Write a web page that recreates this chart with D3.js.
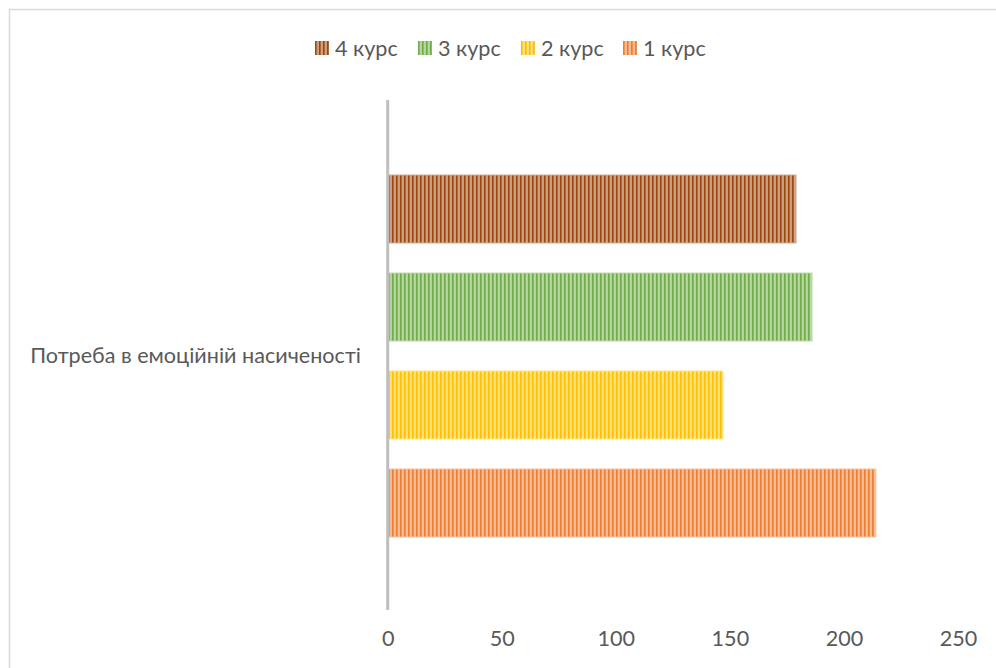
<!DOCTYPE html>
<html>
<head>
<meta charset="utf-8">
<script src="https://cdn.jsdelivr.net/npm/d3@7/dist/d3.min.js"></script>
<style>
  html, body { margin: 0; padding: 0; background: #ffffff; }
  svg { display: block; }
  text { font-family: Lato, "Liberation Sans", sans-serif; fill: #595959; }
</style>
</head>
<body>
<svg id="chart" width="996" height="668"></svg>
<script>
// Category and series data
const categories = ["Потреба в емоційній насиченості"];
const seriesNames = ["4 курс", "3 курс", "2 курс", "1 курс"];
const seriesValues = [179, 186, 147, 214];
const seriesColors = ["#9E480E", "#70AD47", "#FFC000", "#ED7D31"];
const tickValues = [0, 50, 100, 150, 200, 250];

const svg = d3.select("#chart");
const W = 996, H = 668;
const FONT = 21.6;

// Outer chart frame
svg.append("rect")
  .attr("x", 9.5).attr("y", 9.5)
  .attr("width", W + 20).attr("height", H + 20)
  .attr("fill", "#ffffff")
  .attr("stroke", "#d9d9d9").attr("stroke-width", 1.5);

// Plot area
const plot = { left: 387.7, right: 958, top: 100, bottom: 610 };

const x = d3.scaleLinear().domain([0, 250]).range([plot.left, plot.right]);

const yCat = d3.scaleBand().domain(categories).range([plot.top, plot.bottom]);

const ySeries = d3.scaleBand()
  .domain(seriesNames)
  .range([160, 552])
  .paddingInner(0.306)
  .paddingOuter(0.153);

// Narrow vertical stripe pattern for each series
const defs = svg.append("defs");
seriesColors.forEach((c, i) => {
  const p = defs.append("pattern")
    .attr("id", "stripe" + i)
    .attr("patternUnits", "userSpaceOnUse")
    .attr("width", 4).attr("height", 4);
  const light = d3.interpolateRgb(c, "#ffffff")(0.7);
  const mid = d3.interpolateRgb(c, "#ffffff")(0.3);
  p.append("rect").attr("x", 0).attr("y", 0).attr("width", 4).attr("height", 4).attr("fill", light);
  p.append("rect").attr("x", 0).attr("y", 0).attr("width", 1.8).attr("height", 4).attr("fill", c);
  p.append("rect").attr("x", 1.8).attr("y", 0).attr("width", 0.7).attr("height", 4).attr("fill", mid);
  p.append("rect").attr("x", 3.4).attr("y", 0).attr("width", 0.6).attr("height", 4).attr("fill", mid);
});

// Bars
const barData = seriesNames.map((s, i) => ({ name: s, value: seriesValues[i], idx: i }));
svg.append("g").selectAll("rect")
  .data(barData)
  .join("rect")
  .attr("x", x(0))
  .attr("y", d => ySeries(d.name))
  .attr("width", d => x(d.value) - x(0))
  .attr("height", ySeries.bandwidth())
  .attr("fill", d => `url(#stripe${d.idx})`)
  .attr("stroke", d => d3.interpolateRgb(seriesColors[d.idx], "#ffffff")(0.55))
  .attr("stroke-width", 1);

// Vertical category axis line
svg.append("line")
  .attr("x1", x(0)).attr("x2", x(0))
  .attr("y1", plot.top).attr("y2", plot.bottom)
  .attr("stroke", "#bfbfbf").attr("stroke-width", 3);

// Category label
svg.append("g").selectAll("text")
  .data(categories)
  .join("text")
  .attr("x", 361)
  .attr("y", d => yCat(d) + yCat.bandwidth() / 2)
  .attr("dy", "0.35em")
  .attr("text-anchor", "end")
  .attr("font-size", FONT)
  .text(d => d);

// Value axis (labels only)
const xAxis = d3.axisBottom(x).tickValues(tickValues).tickSize(0).tickPadding(0).tickFormat(d3.format("d"));
const gx = svg.append("g").attr("transform", "translate(0,631)").call(xAxis);
gx.select(".domain").remove();
gx.selectAll("text")
  .attr("font-size", FONT)
  .attr("font-family", "Lato, 'Liberation Sans', sans-serif")
  .attr("fill", "#595959");

// Legend
const legendX = [315, 418, 521, 623];
const legend = svg.append("g").selectAll("g")
  .data(barData)
  .join("g")
  .attr("transform", (d, i) => `translate(${legendX[i]},41)`);
legend.append("rect")
  .attr("width", 14).attr("height", 14)
  .attr("fill", d => `url(#stripe${d.idx})`);
legend.append("text")
  .attr("x", 20).attr("y", 7)
  .attr("dy", "0.35em")
  .attr("font-size", FONT)
  .text(d => d.name);
</script>
</body>
</html>
